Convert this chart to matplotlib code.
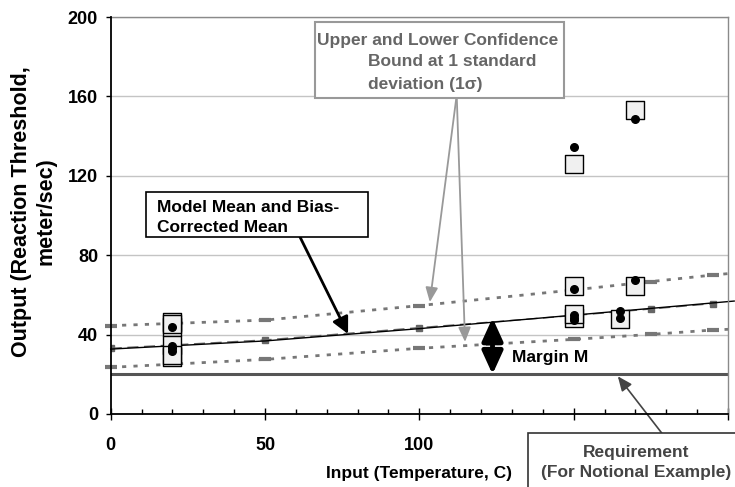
import matplotlib.pyplot as plt
from matplotlib.patches import Rectangle

plt.rcParams['font.family'] = ['Liberation Sans', 'DejaVu Sans']
plt.rcParams['font.weight'] = 'bold'
plt.rcParams['axes.labelweight'] = 'bold'
plt.rcParams['font.size'] = 12.5

# model mean (solid) and bias-corrected mean (dashed, with markers)
mean_x = [0, 50, 100, 150, 175, 202]
mean_y = [32.7, 36.8, 43.0, 49.8, 53.2, 56.9]
bc_x = [0, 50, 100, 150, 175, 195]
bc_y = [33.1, 37.3, 43.5, 49.6, 52.9, 55.6]

# 1 sigma confidence bounds
bound_x = [0, 50, 100, 150, 175, 195, 202]
upper_y = [44.5, 47.3, 54.6, 62.5, 66.7, 70.0, 71.0]
lower_y = [23.5, 27.5, 33.1, 37.6, 40.1, 42.3, 42.8]

requirement = 20

# experimental data (squares) and model predictions (dots)
exp_x = [20, 20, 20, 20, 20, 20, 150, 150, 150, 150, 165, 170, 170]
exp_y = [44.0, 46.5, 45.3, 28.7, 34.8, 29.7, 126.0, 64.6, 48.2, 50.4, 47.7, 153.4, 64.6]
pred_x = [20, 20, 20, 20, 150, 150, 150, 150, 150, 165, 165, 170, 170]
pred_y = [44.0, 34.5, 33.2, 31.7, 134.4, 63.0, 49.9, 48.6, 47.4, 51.9, 48.5, 148.5, 67.5]

x_ticks = [0, 50, 100, 150, 200]
x_ticklabels = ['0', '50', '100', '', '']  # 150 and 200 sit under the requirement box
y_ticks = [0, 40, 80, 120, 160, 200]

W, H = 735, 487


def fp(x, y):
    # pixel position (from top-left) -> figure fraction
    return (x / W, 1 - y / H)


fig = plt.figure(figsize=(W / 100, H / 100), dpi=100)
ax = fig.add_axes([110.7 / W, 1 - 414 / H, (728 - 110.7) / W, (414 - 17) / H])

ax.set_xlim(0, 200)
ax.set_ylim(0, 200)
ax.set_yticks(y_ticks)
ax.set_xticks(x_ticks)
ax.set_xticklabels(x_ticklabels)
ax.set_xticks(range(0, 201, 10), minor=True)
ax.yaxis.grid(True, color='#c4c4c4', lw=1)
ax.set_axisbelow(True)

ax.tick_params(axis='y', direction='out', length=3.6, width=1, pad=5.5, labelsize=13)
ax.tick_params(axis='x', which='major', direction='inout', length=8.6, width=1, pad=12, labelsize=13)
ax.tick_params(axis='x', which='minor', direction='in', length=3.6, width=1)
for s in ['left', 'bottom']:
    ax.spines[s].set_linewidth(1.3)
    ax.spines[s].set_zorder(5)
for s in ['top', 'right']:
    ax.spines[s].set_color('#8a8a8a')
    ax.spines[s].set_linewidth(1)

ax.axhline(requirement, color='#555555', lw=2.2, zorder=2)

ax.plot(bound_x, upper_y, color='#777777', lw=2, dashes=(1.5, 2.6), marker='_', ms=8, mew=3,
        markevery=list(range(6)), clip_on=False, zorder=2)
ax.plot(bound_x, lower_y, color='#777777', lw=2, dashes=(1.5, 2.6), marker='_', ms=8, mew=3,
        markevery=list(range(6)), clip_on=False, zorder=2)
ax.plot(bc_x, bc_y, color='#666666', lw=1, dashes=(8, 4), marker='s', ms=4, zorder=2)
ax.plot(mean_x, mean_y, color='black', lw=1, clip_on=False, zorder=2)

ax.scatter(exp_x, exp_y, marker='s', s=169, facecolor='#f0f0f0', edgecolor='black', lw=1, zorder=3)
ax.scatter(pred_x, pred_y, marker='o', s=30, color='black', zorder=4)

ax.set_xlabel('Input (Temperature, C)', labelpad=9, fontsize=12.5, fontweight='bold')
ax.set_ylabel('Output (Reaction Threshold,\nmeter/sec)', fontsize=15.5, fontweight='bold')
ax.yaxis.set_label_coords(-0.088, 0.51)

# confidence bound callout
x0, y0 = fp(315, 98)
x1, y1 = fp(564, 22)
fig.add_artist(Rectangle((x0, y0), x1 - x0, y1 - y0, transform=fig.transFigure,
                         facecolor='white', edgecolor='#999999', lw=1.5, zorder=6))
fig.text(*fp(317, 40), 'Upper and Lower Confidence', color='#666666', va='center', zorder=7)
fig.text(*fp(368, 62), 'Bound at 1 standard', color='#666666', va='center', zorder=7)
fig.text(*fp(368, 85), 'deviation (1\u03c3)', color='#666666', va='center', zorder=7)
for tip in [(103.4, 56.4), (114.8, 36.3)]:
    ax.annotate('', xy=tip, xytext=fp(456.7, 95), textcoords='figure fraction',
                arrowprops=dict(arrowstyle='-|>,head_length=0.7,head_width=0.3',
                                color='#999999', lw=1.3, shrinkA=0, shrinkB=0),
                annotation_clip=False, zorder=5)

# model mean callout
x0, y0 = fp(145.7, 237)
x1, y1 = fp(368, 192)
fig.add_artist(Rectangle((x0, y0), x1 - x0, y1 - y0, transform=fig.transFigure,
                         facecolor='white', edgecolor='black', lw=1.2, zorder=6))
fig.text(*fp(157, 207), 'Model Mean and Bias-', color='black', va='center', zorder=7)
fig.text(*fp(157, 227), 'Corrected Mean', color='black', va='center', zorder=7)
ax.annotate('', xy=(76.9, 40.3), xytext=fp(300, 237), textcoords='figure fraction',
            arrowprops=dict(arrowstyle='-|>,head_length=0.8,head_width=0.4',
                            color='black', lw=2, shrinkA=0, shrinkB=0),
            annotation_clip=False, zorder=5)

# margin arrow
ax.annotate('', xy=(123.7, 48.4), xytext=(123.7, requirement),
            arrowprops=dict(arrowstyle='<|-|>,head_length=1.1,head_width=0.5',
                            color='black', lw=3.5, shrinkA=0, shrinkB=0), zorder=5)
ax.text(130, 28.7, 'Margin M', color='black', va='center', zorder=6)

# requirement callout
x0, y0 = fp(528, 492)
x1, y1 = fp(745, 433)
fig.add_artist(Rectangle((x0, y0), x1 - x0, y1 - y0, transform=fig.transFigure,
                         facecolor='white', edgecolor='#333333', lw=1.2, zorder=6))
fig.text(*fp(636, 452), 'Requirement', color='#444444', ha='center', va='center', zorder=7)
fig.text(*fp(636, 472), '(For Notional Example)', color='#444444', ha='center', va='center', zorder=7)
ax.annotate('', xy=(164.3, 19.0), xytext=fp(661.7, 433), textcoords='figure fraction',
            arrowprops=dict(arrowstyle='-|>,head_length=0.7,head_width=0.3',
                            color='#444444', lw=1.2, shrinkA=0, shrinkB=0),
            annotation_clip=False, zorder=5)

fig.savefig('out.png', dpi=100)
